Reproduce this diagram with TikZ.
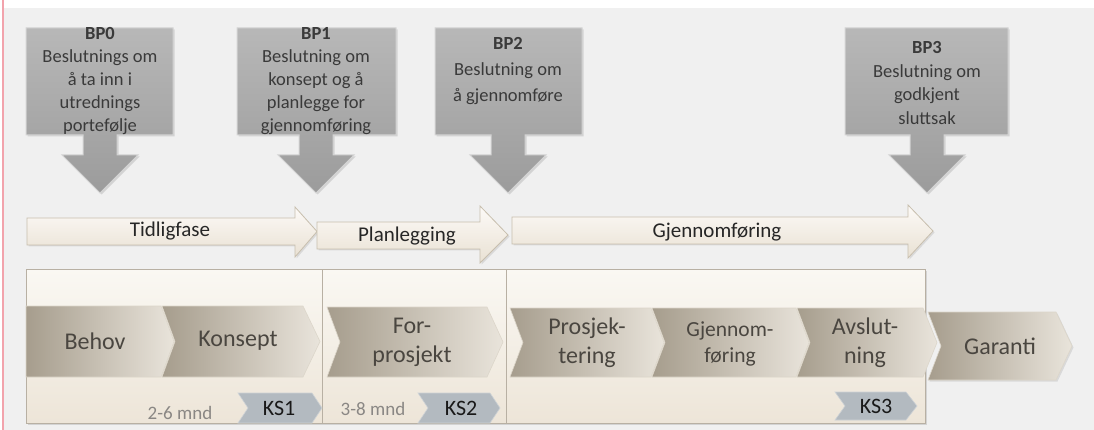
\documentclass[tikz,border=0pt]{standalone}
\usepackage{fontspec}
\setmainfont{Carlito}
\usetikzlibrary{shadows}
\definecolor{bggray}{HTML}{F0F0F0}
\definecolor{pinkline}{HTML}{F2A3AC}
\definecolor{txtdark}{HTML}{3A3A3A}
\definecolor{chevtxt}{HTML}{4A4640}
\definecolor{mndtxt}{HTML}{8A8784}
\newcommand\bpcallout[3]{%
  \path[bpbox] (#1,28) -- (#2,28) -- (#2,135) -- (#3+17,135) -- (#3+17,155)
    -- (#3+38,155) -- (#3,193) -- (#3-38,155) -- (#3-17,155) -- (#3-17,135)
    -- (#1,135) -- cycle;}
\tikzset{
  bpbox/.style={top color=black!28, bottom color=black!39, draw=black!17, line width=1pt,
    drop shadow={opacity=0.25, shadow xshift=1.5pt, shadow yshift=-1.5pt}},
  bptext/.style={align=center, text=txtdark, font=\fontsize{18.5}{23}\selectfont, inner sep=0pt},
  phasearrow/.style={top color=white!96!brown, bottom color={rgb,255:red,233;green,225;blue,211},
    draw={rgb,255:red,200;green,191;blue,174}, line width=0.8pt,
    drop shadow={opacity=0.2, shadow xshift=1.5pt, shadow yshift=-1.5pt}},
  phasetext/.style={text=black!85, font=\fontsize{21}{25}\selectfont, inner sep=0pt},
  panel/.style={top color={rgb,255:red,250;green,248;blue,243}, bottom color={rgb,255:red,237;green,229;blue,216},
    draw={rgb,255:red,184;green,176;blue,163}, line width=1pt,
    drop shadow={opacity=0.25, shadow xshift=1.5pt, shadow yshift=-1.5pt}},
  chev/.style={left color={rgb,255:red,166;green,157;blue,141}, right color={rgb,255:red,233;green,228;blue,219},
    draw={rgb,255:red,220;green,214;blue,202}, line width=0.6pt},
  chevtext/.style={align=center, text=chevtxt, font=\fontsize{24}{29}\selectfont, inner sep=0pt},
  ksbox/.style={fill={rgb,255:red,179;green,186;blue,192}, draw={rgb,255:red,205;green,210;blue,214}, line width=0.6pt},
  kstext/.style={text=black!90, font=\fontsize{22}{26}\selectfont, inner sep=0pt},
  mndtext/.style={text=mndtxt, font=\fontsize{19}{23}\selectfont, inner sep=0pt}
}
\begin{document}
\begin{tikzpicture}[x=1pt,y=-1pt]
\useasboundingbox (0,0) rectangle (1094,430);
\fill[white] (0,0) rectangle (1094,430);
\fill[bggray] (4,8) rectangle (1094,430);
\draw[pinkline, line width=1.5pt] (3,0) -- (3,430);

% decision callouts
\bpcallout{26}{173}{100}
\bpcallout{237}{396}{316}
\bpcallout{435}{582}{508}
\bpcallout{845}{1008}{927}
\node[bptext] (bp0) at (100,81.5) {\textbf{BP0}\\Beslutnings om\\å ta inn i\\utrednings\\portefølje};
\node[bptext] (bp1) at (316,81.5) {\textbf{BP1}\\Beslutning om\\konsept og å\\planlegge for\\gjennomføring};
\node[bptext, font=\fontsize{18.5}{26}\selectfont] (bp2) at (508,71) {\textbf{BP2}\\Beslutning om\\å gjennomføre};
\node[bptext, font=\fontsize{18.5}{23.5}\selectfont] (bp3) at (927,83) {\textbf{BP3}\\Beslutning om\\godkjent\\sluttsak};

% phase arrows
\path[phasearrow] (27,218) -- (295,218) -- (295,207) -- (317,231.5) -- (295,257) -- (295,245) -- (27,245) -- cycle;
\path[phasearrow] (317,222) -- (480,222) -- (480,206) -- (508,235) -- (480,263) -- (480,249) -- (317,249) -- cycle;
\path[phasearrow] (512,217) -- (908,217) -- (908,205) -- (933,231) -- (908,258) -- (908,244) -- (512,244) -- cycle;
\node[phasetext] (ph1) at (170,231) {Tidligfase};
\node[phasetext] (ph2) at (407,236) {Planlegging};
\node[phasetext] (ph3) at (717,232) {Gjennomføring};

% panels
\path[panel] (26,269) rectangle (322,423);
\path[panel] (322,269) rectangle (506,423);
\path[panel] (506,269) rectangle (925,423);

% chevrons
\path[chev] (26,306) -- (161,306) -- (174,341.5) -- (161,377) -- (26,377) -- cycle;
\path[chev] (162,306) -- (303,306) -- (320,341.5) -- (303,377) -- (162,377) -- (175,341.5) -- cycle;
\path[chev] (327,307) -- (487,307) -- (503,342) -- (487,377) -- (327,377) -- (340,342) -- cycle;
\path[chev] (510,308) -- (651,308) -- (664,342.5) -- (651,377) -- (510,377) -- (523,342.5) -- cycle;
\path[chev] (652,308) -- (796,308) -- (809,342.5) -- (796,377) -- (652,377) -- (665,342.5) -- cycle;
\path[chev] (797,308) -- (923,308) -- (937,342.5) -- (923,377) -- (797,377) -- (810,342.5) -- cycle;
\path[chev, drop shadow={opacity=0.2, shadow xshift=1.5pt, shadow yshift=-1.5pt}] (928,312) -- (1056,312) -- (1072,346) -- (1056,380) -- (928,380) -- (941,346) -- cycle;

\node[chevtext] (behov) at (95,341) {Behov};
\node[chevtext] (konsept) at (238,341) {Konsept};
\node[chevtext] (forprosjekt) at (412,342) {For-\\prosjekt};
\node[chevtext] (prosjektering) at (587,343) {Prosjek-\\tering};
\node[chevtext, font=\fontsize{21.5}{26}\selectfont] (gjennomforing) at (730,344) {Gjennom-\\føring};
\node[chevtext] (avslutning) at (865,343) {Avslut-\\ning};
\node[chevtext] (garanti) at (1000,346) {Garanti};

% quality checks
\path[ksbox] (238,393) -- (312,393) -- (322,408) -- (312,423) -- (238,423) -- (248,408) -- cycle;
\path[ksbox] (418,393) -- (490,393) -- (500,408) -- (490,423) -- (418,423) -- (428,408) -- cycle;
\path[ksbox] (835,392) -- (906,392) -- (917,406) -- (906,420) -- (835,420) -- (845,406) -- cycle;
\node[kstext] (ks1) at (279,408) {KS1};
\node[kstext] (ks2) at (461,408) {KS2};
\node[kstext] (ks3) at (876,406) {KS3};
\node[mndtext] (mnd1) at (180,413) {2-6 mnd};
\node[mndtext] (mnd2) at (373,409) {3-8 mnd};
\end{tikzpicture}
\end{document}
